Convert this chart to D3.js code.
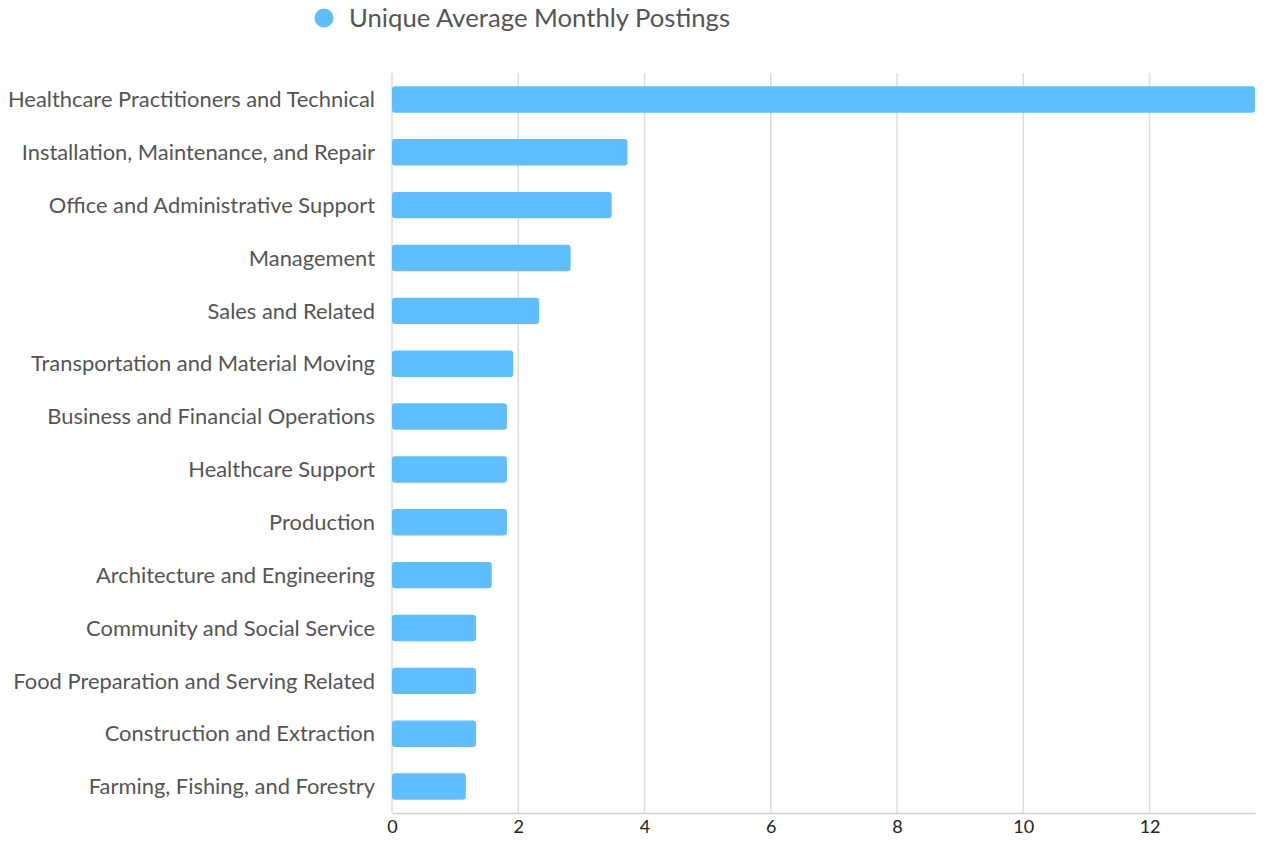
<!DOCTYPE html>
<html>
<head>
<meta charset="utf-8">
<script src="https://cdn.jsdelivr.net/npm/d3@7"></script>
<style>
  body { margin: 0; background: #fff; }
  text { font-family: Lato, "Open Sans", sans-serif; }
</style>
</head>
<body>
<svg width="1269" height="841"></svg>
<script>
// chart data
var categories = [
  "Healthcare Practitioners and Technical",
  "Installation, Maintenance, and Repair",
  "Office and Administrative Support",
  "Management",
  "Sales and Related",
  "Transportation and Material Moving",
  "Business and Financial Operations",
  "Healthcare Support",
  "Production",
  "Architecture and Engineering",
  "Community and Social Service",
  "Food Preparation and Serving Related",
  "Construction and Extraction",
  "Farming, Fishing, and Forestry"
];
var values = [13.67, 3.73, 3.48, 2.83, 2.33, 1.92, 1.82, 1.82, 1.82, 1.58, 1.33, 1.33, 1.33, 1.17];
var xTicks = [0, 2, 4, 6, 8, 10, 12];
var seriesName = "Unique Average Monthly Postings";

var svg = d3.select("svg"),
    plotLeft = 392, plotRight = 1255,
    plotTop = 73, plotBottom = 813,
    barColor = "#5EBEFF";

var x = d3.scaleLinear().domain([0, d3.max(values)]).range([plotLeft, plotRight]);
var y = d3.scaleBand().domain(categories).range([plotTop, plotBottom])
  .paddingInner(0.5).paddingOuter(0.25);

// gridlines
svg.append("g").selectAll("line").data(xTicks).join("line")
  .attr("x1", d => x(d)).attr("x2", d => x(d))
  .attr("y1", plotTop).attr("y2", plotBottom)
  .attr("stroke", "#dcdcdc").attr("stroke-width", 1.5);

// bottom axis
var xAxis = svg.append("g")
  .attr("transform", "translate(0," + plotBottom + ")")
  .call(d3.axisBottom(x).tickValues(xTicks).tickSize(0).tickPadding(7));
xAxis.select(".domain").attr("stroke", "#d0d0d0").attr("stroke-width", 1.5);
xAxis.selectAll("text")
  .style("font-size", "18px").attr("fill", "#222")
  .style("font-family", "Lato, sans-serif");

// bars
svg.append("g").selectAll("rect").data(values).join("rect")
  .attr("x", x(0))
  .attr("y", (d, i) => y(categories[i]))
  .attr("width", d => x(d) - x(0))
  .attr("height", y.bandwidth())
  .attr("rx", 3)
  .attr("fill", barColor);

// category labels
svg.append("g").selectAll("text").data(categories).join("text")
  .attr("x", 375)
  .attr("y", d => y(d) + y.bandwidth() / 2)
  .attr("dy", "0.35em")
  .attr("text-anchor", "end")
  .attr("font-size", "21.9px")
  .attr("fill", "#555")
  .text(d => d);

// legend
svg.append("circle").attr("cx", 324).attr("cy", 18).attr("r", 9.5).attr("fill", barColor);
svg.append("text").attr("x", 349).attr("y", 18).attr("dy", "0.35em")
  .attr("font-size", "25.7px").attr("fill", "#555").text(seriesName);
</script>
</body>
</html>
